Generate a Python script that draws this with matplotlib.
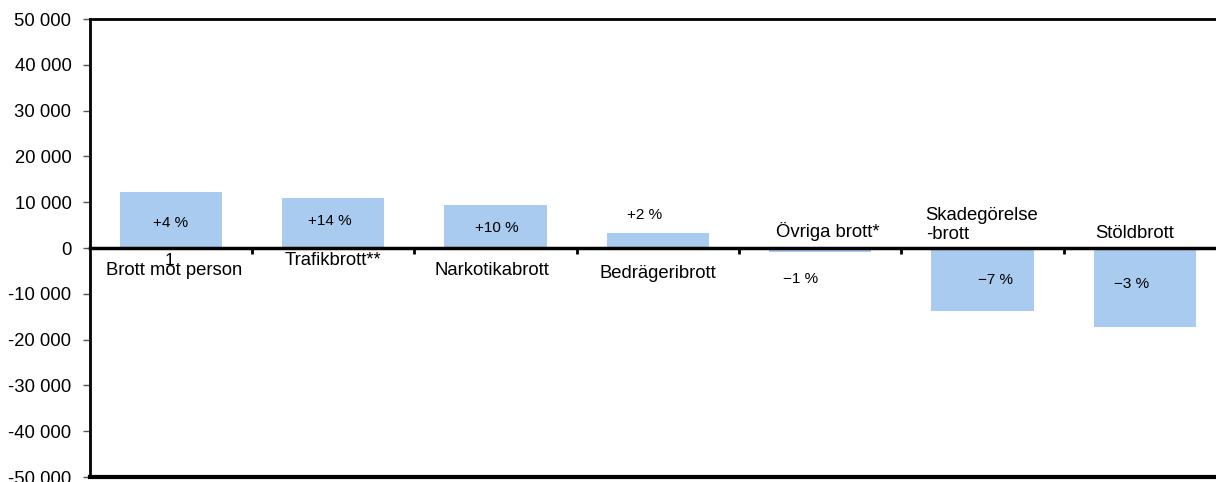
import numpy as np
import matplotlib
matplotlib.use('Agg')
import matplotlib.pyplot as plt

plt.rcParams['font.family'] = ['Liberation Sans', 'DejaVu Sans']

# data
categories = ['Brott mot person', 'Trafikbrott**', 'Narkotikabrott', 'Bedrägeribrott',
              'Övriga brott*', 'Skadegörelse\n-brott', 'Stöldbrott']
changes = [12200, 10900, 9400, 3300, -800, -13700, -17200]
pct_labels = ['+4 %', '+14 %', '+10 %', '+2 %', '−1 %', '−7 %', '−3 %']
yticks = [50000, 40000, 30000, 20000, 10000, 0, -10000, -20000, -30000, -40000, -50000]
ytick_labels = ['50 000', '40 000', '30 000', '20 000', '10 000', '0',
                '-10 000', '-20 000', '-30 000', '-40 000', '-50 000']

# label placement (offset in category units, y in data units)
pct_pos = [(0.0, 5500), (-0.02, 5900), (0.01, 4400), (-0.08, 7200),
           (-0.12, -6800), (0.08, -7000), (-0.08, -7900)]
cat_pos = [(0.02, -5000, 'center'), (0.0, -2800, 'center'), (-0.02, -5000, 'center'),
           (0.0, -5500, 'center'), (0.05, 3500, 'center'), (-0.35, 5000, 'left'),
           (-0.06, 3100, 'center')]

fig = plt.figure(figsize=(12.16, 4.82), dpi=100)
ax = fig.add_axes([89.5 / 1216, 5 / 482, (1226 - 89.5) / 1216, (477 - 19) / 482])

x = np.arange(len(categories))
ax.bar(x, changes, width=0.63, color='#A9CBF0', zorder=1)

ax.set_xlim(-0.5, len(categories) - 0.5)
ax.set_ylim(-50000, 50000)
ax.set_yticks(yticks)
ax.set_yticklabels(ytick_labels, fontsize=13.3)
ax.tick_params(axis='y', direction='out', length=5, width=1, color='#555555', pad=8)

# zero line with category separators
ax.spines['bottom'].set_position(('data', 0))
ax.spines['bottom'].set_linewidth(2.5)
ax.spines['bottom'].set_zorder(3)
ax.set_xticks(x[:-1] + 0.5)
ax.set_xticklabels([])
ax.tick_params(axis='x', direction='out', length=4, width=2, color='black')
for s in ['left', 'top', 'right']:
    ax.spines[s].set_linewidth(2)
ax.axhline(-50000, color='black', lw=3, clip_on=False, zorder=3)

for i, (dx, y) in enumerate(pct_pos):
    ax.text(i + dx, y, pct_labels[i], ha='center', va='center', fontsize=11)

for i, (dx, y, ha) in enumerate(cat_pos):
    ax.text(i + dx, y, categories[i], ha=ha, va='center', fontsize=13.3,
            linespacing=1.1)

ax.text(-0.01, -2700, '1', ha='center', va='center', fontsize=12.5)

fig.savefig('out.png', dpi=100)
